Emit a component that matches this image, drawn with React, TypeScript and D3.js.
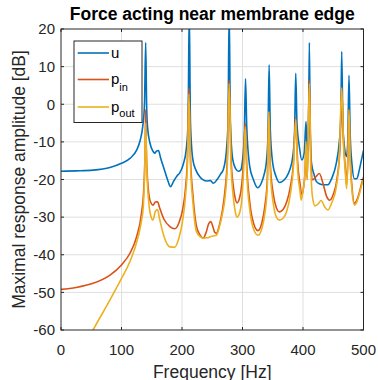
import React from 'react'
import * as d3 from 'd3'

// values, [frequency Hz, amplitude dB]
const uData: [number, number][] = [
  [0, -17.8], [25, -17.7], [53, -17.5], [81, -16.8], [100, -15.7], [114, -14.4], [125, -12.2],
  [131, -9.5], [135, -6], [138, 0], [140, 16.4], [141.5, 0], [143, -6], [147, -10.3], [152, -12.5],
  [155, -13], [158, -12.4], [161, -12.3], [165, -14.5], [170, -17], [176, -20], [181, -21.9],
  [186, -20.5], [192, -19], [196, -18.3], [202, -16], [207, -12], [210, -5], [212, 25], [214, -5],
  [218, -14.8], [223, -17.5], [229, -19.2], [235, -20.1], [241, -20.4], [247, -20.3], [252, -21],
  [258, -20], [264, -18.5], [268, -17.5], [273, -13], [276, -5], [278, 25], [280, -5], [284, -14.8],
  [289, -17.2], [293, -17.8], [297, -17.5], [300, -15], [303, -8], [305, 6.8], [307, -6],
  [312, -16.6], [318, -20], [325, -22.2], [331, -21], [336, -18.5], [339, -16], [342, -9],
  [344, 10.5], [346, -7], [350, -15.7], [355, -19], [361, -20.8], [366, -20.5], [372, -19.5],
  [378, -17.5], [383, -14], [386, -8], [388, 8.2], [390, -5], [394, -11.3], [398, -14.8],
  [402, -13], [405, -4.6], [407, -13], [409, -8], [410.5, 16.4], [412, -8], [414, -15.6],
  [418, -18.5], [422, -20.5], [428, -21.2], [433, -21.4], [441, -21.4], [448, -19.5], [455, -15.7],
  [460, -10], [462.5, -4], [464, 14], [466, -6], [469, -12], [472, -13.9], [474, -10], [476, 7.7],
  [478, -8], [481, -16], [485, -19.8], [489, -19.8], [493, -17.5], [497, -14.5], [500, -12.3],
]

const pinData: [number, number][] = [
  [0, -49.2], [25, -48.7], [53, -47.6], [81, -45.4], [100, -42.7], [114, -39.6], [125, -35.2],
  [133, -29], [137, -22], [139, -12], [140, -1.5], [141, -12], [144, -22], [148, -26], [152, -26.8],
  [156, -26], [159.5, -25.9], [163, -27.5], [170, -30.5], [180, -32.5], [188, -33.1], [195, -31.5],
  [201, -28], [206, -22], [209, -14], [211.5, 4.3], [214, -14], [218, -24], [224, -32.5],
  [230, -34.8], [235, -35.6], [240, -34], [244, -31.8], [247.5, -31.2], [251, -32.5], [254, -34],
  [257, -34.3], [262, -32], [267, -28], [271, -23], [275, -14], [278, 6.4], [281, -14], [285, -22],
  [288, -25], [291, -26.2], [295, -25], [299, -21], [302, -14], [304.5, -5], [307, -16], [312, -26],
  [318, -31.5], [325.6, -33.6], [332, -31.5], [337, -27], [341, -20], [343.5, -2], [346, -16],
  [351, -24], [356, -27.5], [361, -28.6], [367, -28], [373, -26], [379, -22], [384, -16],
  [388, -3.5], [391, -15], [395, -21], [398, -24], [401, -22], [403, -19], [405, -12], [407, -20],
  [410.5, 6.4], [413, -14], [416, -20.1], [420, -19.5], [427, -18.4], [433, -21], [439, -24.5],
  [444, -25.5], [450, -24], [456, -20], [461, -12], [464, 4.5], [467, -10], [470, -17],
  [472, -21.5], [474, -15], [476, -1.5], [478, -14], [481, -22], [485, -26.3], [489, -25.5],
  [493, -23.5], [497, -21], [500, -19.3],
]

const poutData: [number, number][] = [
  [40, -64], [53, -60], [81, -52], [100, -46.3], [114, -41.8], [127.6, -35.2], [133, -31],
  [136, -27.2], [138, -20], [140, -5], [142, -18], [145, -26], [149, -30], [152, -30.8],
  [156, -28.5], [159.5, -28], [163, -30.5], [170, -35], [180, -37.9], [188, -38], [195, -35.5],
  [201, -31], [206, -24], [209, -16], [211.5, 2.7], [214, -16], [218, -26], [224, -33.9],
  [230, -35.2], [235, -35.6], [240, -35.5], [244, -35.4], [247, -35.2], [251, -35], [257, -34.8],
  [262, -32.5], [267, -29], [271, -25], [275, -16], [278, 5.5], [281, -16], [285, -25],
  [288, -28.5], [291, -30], [295, -29], [299, -25], [302, -17], [304.5, -6], [307, -18], [312, -28],
  [318, -33], [325.6, -34.8], [332, -33], [337, -29], [341, -22], [343.5, -2], [346, -18],
  [351, -26.5], [356, -30], [361, -30.8], [367, -30.3], [373, -28.5], [379, -24], [384, -17],
  [388, -4], [391, -17], [395, -23], [397, -25.5], [400, -23], [403, -19], [405, -10], [407, -20],
  [410.5, 5.5], [413, -17], [416, -25], [420, -27], [425, -26.5], [430, -25.6], [436, -27.3],
  [441, -28.1], [448, -26], [455, -22], [460, -14], [464, 4.3], [467, -11], [470, -18],
  [472, -22.4], [474, -16], [476, -1.5], [478, -15], [481, -23], [485, -26.8], [489, -26],
  [493, -24], [497, -21.5], [500, -19.8],
]

const xTicks = [0, 100, 200, 300, 400, 500]
const yTicks = [-60, -50, -40, -30, -20, -10, 0, 10, 20]

const W = 378
const H = 380
const left = 61
const right = 363.5
const top = 29
const bottom = 330

const font = 'Liberation Sans, Arial, Helvetica, sans-serif'
const axisColor = '#262626'

export default function App() {
  const x = d3.scaleLinear().domain([0, 500]).range([left, right])
  const y = d3.scaleLinear().domain([-60, 20]).range([bottom, top])
  const line = d3
    .line<[number, number]>()
    .x(d => x(d[0]))
    .y(d => y(d[1]))
    .curve(d3.curveMonotoneX)

  const series = [
    { data: uData, color: '#0072BD' },
    { data: pinData, color: '#D95319' },
    { data: poutData, color: '#EDB120' },
  ]

  return (
    <svg width={W} height={H} style={{ position: 'absolute', left: 0, top: 0, background: '#fff' }}>
      <defs>
        <clipPath id="plot">
          <rect x={left} y={top} width={right - left} height={bottom - top} />
        </clipPath>
      </defs>
      <rect x={0} y={0} width={W} height={H} fill="#fff" />

      {/* grid */}
      <g stroke="#dfdfdf" strokeWidth={1}>
        {xTicks.slice(1, -1).map(t => (
          <line key={'gx' + t} x1={x(t)} x2={x(t)} y1={top} y2={bottom} />
        ))}
        {yTicks.slice(1, -1).map(t => (
          <line key={'gy' + t} x1={left} x2={right} y1={y(t)} y2={y(t)} />
        ))}
      </g>

      <g clipPath="url(#plot)" fill="none" strokeWidth={1.6} strokeLinejoin="round">
        {series.map((s, i) => (
          <path key={i} d={line(s.data) || ''} stroke={s.color} />
        ))}
      </g>

      {/* axes box and ticks */}
      <rect x={left} y={top} width={right - left} height={bottom - top} fill="none" stroke={axisColor} strokeWidth={1} />
      <g stroke={axisColor} strokeWidth={1}>
        {xTicks.map(t => (
          <g key={'tx' + t}>
            <line x1={x(t)} x2={x(t)} y1={bottom} y2={bottom - 3} />
            <line x1={x(t)} x2={x(t)} y1={top} y2={top + 3} />
          </g>
        ))}
        {yTicks.map(t => (
          <g key={'ty' + t}>
            <line x1={left} x2={left + 3} y1={y(t)} y2={y(t)} />
            <line x1={right} x2={right - 3} y1={y(t)} y2={y(t)} />
          </g>
        ))}
      </g>

      <g fontFamily={font} fontSize={15} fill={axisColor}>
        {xTicks.map(t => (
          <text key={'lx' + t} x={x(t)} y={354.5} textAnchor="middle">{t}</text>
        ))}
        {yTicks.map(t => (
          <text key={'ly' + t} x={55} y={y(t) + 5.3} textAnchor="end">{t}</text>
        ))}
      </g>

      <text x={(left + right) / 2} y={20} textAnchor="middle" fontFamily={font} fontSize={17.5} fontWeight="bold" fill="#000">
        Force acting near membrane edge
      </text>
      <text x={(left + right) / 2} y={377.5} textAnchor="middle" fontFamily={font} fontSize={17.5} fill={axisColor}>
        Frequency [Hz]
      </text>
      <text
        transform={`translate(25,${(top + bottom) / 2}) rotate(-90)`}
        textAnchor="middle"
        fontFamily={font}
        fontSize={17.5}
        fill={axisColor}
      >
        Maximal response amplitude [dB]
      </text>

      {/* legend */}
      <rect x={74} y={41} width={68} height={81.5} fill="#fff" stroke={axisColor} strokeWidth={1} />
      <g strokeWidth={1.6}>
        <line x1={77.7} x2={109} y1={53} y2={53} stroke="#0072BD" />
        <line x1={77.7} x2={109} y1={79.5} y2={79.5} stroke="#D95319" />
        <line x1={77.7} x2={109} y1={107} y2={107} stroke="#EDB120" />
      </g>
      <g fontFamily={font} fontSize={15} fill="#000">
        <text x={111} y={57.5}>u</text>
        <text x={111} y={84}>p<tspan fontSize={11} dy={6.5}>in</tspan></text>
        <text x={111} y={111.5}>p<tspan fontSize={11} dy={5.5}>out</tspan></text>
      </g>
    </svg>
  )
}
